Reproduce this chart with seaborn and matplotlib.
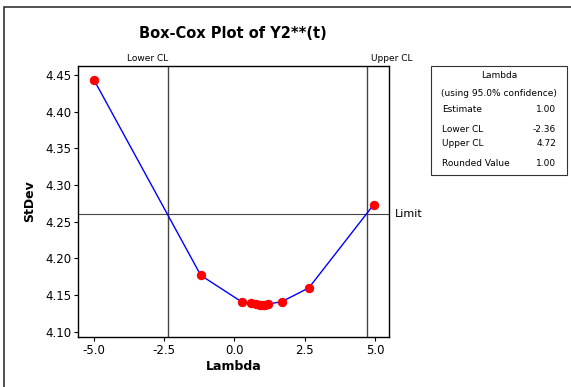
import matplotlib
matplotlib.use("Agg")
import matplotlib.pyplot as plt
import seaborn as sns
import pandas as pd
from matplotlib.patches import Rectangle

lambdas = [-5.0, -1.2, 0.25, 0.58, 0.78, 0.9, 1.0, 1.1, 1.2, 1.68, 2.65, 4.95]
stdevs = [4.443, 4.177, 4.141, 4.139, 4.138, 4.137, 4.137, 4.137, 4.138, 4.141, 4.160, 4.273]
lower_cl = -2.36
upper_cl = 4.72
limit = 4.261
xticks = [-5.0, -2.5, 0.0, 2.5, 5.0]
yticks = [4.10, 4.15, 4.20, 4.25, 4.30, 4.35, 4.40, 4.45]
legend_rows = [("Estimate", "1.00"), ("Lower CL", "-2.36"), ("Upper CL", "4.72"), ("Rounded Value", "1.00")]

df = pd.DataFrame({"Lambda": lambdas, "StDev": stdevs})

sns.set_style("ticks", {"axes.edgecolor": "black", "text.color": "black",
                        "axes.labelcolor": "black", "xtick.color": "black",
                        "ytick.color": "black"})
plt.rcParams['font.family'] = ['DejaVu Sans']

fig = plt.figure(figsize=(5.71, 3.87), dpi=100)
ax = fig.add_axes([78/571, 1-337/387, (389-78)/571, (337-66)/387])

sns.lineplot(data=df, x="Lambda", y="StDev", ax=ax, color="blue", linewidth=1,
             marker="o", markersize=6, markerfacecolor="red", markeredgecolor="red",
             sort=False, zorder=3)

ax.axvline(lower_cl, color="#444444", linewidth=1, zorder=1)
ax.axvline(upper_cl, color="#444444", linewidth=1, zorder=1)
ax.axhline(limit, color="#444444", linewidth=0.8, zorder=1)

ax.set_xlim(-5.57, 5.5)
ax.set_ylim(4.093, 4.462)
ax.set_xticks(xticks)
ax.set_xticklabels([f"{t:.1f}" for t in xticks], fontsize=8.5)
ax.set_yticks(yticks)
ax.set_yticklabels([f"{t:.2f}" for t in yticks], fontsize=8.5)
ax.tick_params(length=3, width=0.8, pad=2, colors="black")
for s in ax.spines.values():
    s.set_linewidth(1)
    s.set_color("black")
    s.set_visible(True)
ax.set_xlabel("Lambda", fontsize=9, fontweight="bold", labelpad=2, color="black")
ax.set_ylabel("StDev", fontsize=9, fontweight="bold", labelpad=6, color="black")

ax.text(lower_cl, 1.01, "Lower CL", transform=ax.get_xaxis_transform(), ha="right",
        va="bottom", fontsize=6.5, color="black")
ax.text(upper_cl + 0.15, 1.01, "Upper CL", transform=ax.get_xaxis_transform(), ha="left",
        va="bottom", fontsize=6.5, color="black")
ax.text(1.02, limit, "Limit", transform=ax.get_yaxis_transform(), ha="left",
        va="center", fontsize=8, color="black")

fig.text(233/571, 1-33/387, "Box-Cox Plot of Y2**(t)", ha="center", va="center",
         fontsize=10.5, fontweight="bold", color="black")

# legend box
fig.patches.append(Rectangle((431/571, 1-175/387), (567-431)/571, (175-66)/387,
                             transform=fig.transFigure, fill=False, edgecolor="#333333",
                             linewidth=0.8))
fig.text(499/571, 1-75/387, "Lambda", ha="center", va="center", fontsize=6.5, color="black")
fig.text(499/571, 1-93/387, "(using 95.0% confidence)", ha="center", va="center",
         fontsize=6.5, color="black")
ys = [110, 130, 144, 164]
for (lab, val), yy in zip(legend_rows, ys):
    fig.text(442/571, 1-yy/387, lab, ha="left", va="center", fontsize=6.5, color="black")
    fig.text(556/571, 1-yy/387, val, ha="right", va="center", fontsize=6.5, color="black")

# outer frame
fig.patches.append(Rectangle((4/571, -0.1), 1.2, 1-7/387+0.1, transform=fig.transFigure,
                             fill=False, edgecolor="#333333", linewidth=1.2))

fig.savefig("out.png", dpi=100)
